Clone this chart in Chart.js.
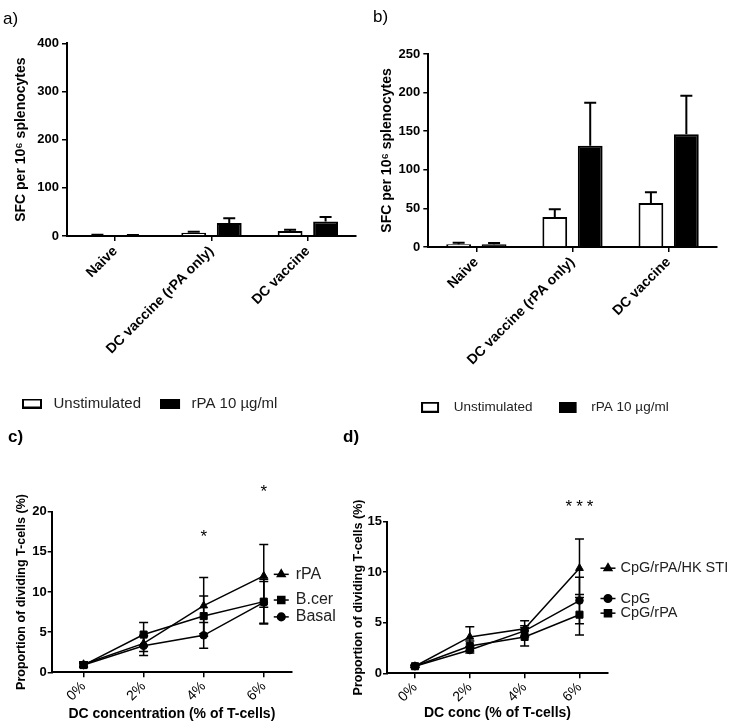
<!DOCTYPE html>
<html><head><meta charset="utf-8">
<script src="https://cdn.jsdelivr.net/npm/chart.js@4/dist/chart.umd.min.js"></script>
<style>
html,body{margin:0;padding:0;background:#fff;}
body{width:735px;height:726px;position:relative;overflow:hidden;}
canvas{position:absolute;}
</style></head><body>
<canvas id="ca" width="370" height="421" style="left:0;top:0"></canvas>
<canvas id="cb" width="365" height="424" style="left:370px;top:0"></canvas>
<canvas id="cc" width="340" height="306" style="left:0;top:420px"></canvas>
<canvas id="cd" width="395" height="306" style="left:340px;top:420px"></canvas>
<script>
// ---------- data ----------
const barCategories = ['Naive', 'DC vaccine (rPA only)', 'DC vaccine'];
const barSeries = ['Unstimulated', 'rPA 10 µg/ml'];
const aUnstim = [2, 7, 10.5];
const aUnstimErr = [0.5, 2, 2.5];
const aRpa = [1.5, 27, 30];
const aRpaErr = [0.5, 10, 9.5];
const bUnstim = [3.5, 39, 57];
const bUnstimErr = [2, 10, 14];
const bRpa = [3.5, 131, 146];
const bRpaErr = [1.7, 56, 50];

const dcConc = ['0%', '2%', '4%', '6%'];
const cNames = ['rPA', 'B.cer', 'Basal'];
const cRpa = [1.0, 3.6, 8.3, 12.0];
const cRpaErr = [0.3, 1.0, 3.5, 3.9];
const cBcer = [0.9, 4.7, 7.0, 8.8];
const cBcerErr = [0.3, 1.5, 2.5, 2.8];
const cBasal = [0.9, 3.3, 4.6, 8.7];
const cBasalErr = [0.2, 1.2, 1.6, 2.6];
const cSig = ['', '', '*', '*'];

const dNames = ['CpG/rPA/HK STI', 'CpG', 'CpG/rPA'];
const dHk = [0.7, 3.6, 4.4, 10.4];
const dHkErr = [0.1, 1.0, 0.8, 2.9];
const dCpg = [0.7, 2.3, 4.2, 7.2];
const dCpgErr = [0.1, 0.3, 0.5, 2.3];
const dCpgRpa = [0.7, 2.7, 3.6, 5.8];
const dCpgRpaErr = [0.1, 0.5, 0.9, 2.0];
const dSig = ['', '', '', '***'];

// ---------- setup ----------
const FONT = "'Liberation Sans', Arial, sans-serif";
Chart.defaults.font.family = FONT;
Chart.defaults.color = '#000';

const errorBars = {
  id: 'errorBars',
  afterDatasetsDraw(chart, args, opts) {
    const ctx = chart.ctx, ys = chart.scales.y;
    ctx.save();
    ctx.strokeStyle = '#000';
    ctx.lineWidth = opts.width;
    chart.data.datasets.forEach((ds, i) => {
      if (!ds.errors) return;
      const meta = chart.getDatasetMeta(i);
      meta.data.forEach((el, j) => {
        const raw = ds.data[j];
        const v = (typeof raw === 'object') ? raw.y : raw;
        const e = ds.errors[j];
        const x = el.x;
        const top = ys.getPixelForValue(v + e);
        const bot = opts.upOnly ? el.y : ys.getPixelForValue(v - e);
        ctx.beginPath();
        ctx.moveTo(x, bot); ctx.lineTo(x, top);
        ctx.moveTo(x - opts.cap, top); ctx.lineTo(x + opts.cap, top);
        if (!opts.upOnly) { ctx.moveTo(x - opts.cap, bot); ctx.lineTo(x + opts.cap, bot); }
        ctx.stroke();
      });
    });
    ctx.restore();
  }
};

const sigMarks = {
  id: 'sigMarks',
  afterDraw(chart, args, opts) {
    if (!opts.labels) return;
    const ctx = chart.ctx, xs = chart.scales.x, ys = chart.scales.y;
    ctx.save();
    ctx.font = opts.size + 'px ' + FONT;
    ctx.fillStyle = '#000';
    ctx.textAlign = 'center';
    ctx.textBaseline = 'alphabetic';
    if (opts.spacing) ctx.letterSpacing = opts.spacing + 'px';
    opts.labels.forEach((t, i) => {
      if (!t) return;
      ctx.fillText(t, xs.getPixelForValue(i) + (opts.spacing || 0) / 2, ys.getPixelForValue(opts.at[i]) + opts.size * 0.58);
    });
    ctx.restore();
  }
};

const inlineLegend = {
  id: 'inlineLegend',
  afterDraw(chart, args, opts) {
    if (!opts.ys) return;
    const ctx = chart.ctx, xs = chart.scales.x, ys = chart.scales.y;
    const xr = xs.getPixelForValue(opts.atX);
    ctx.save();
    chart.data.datasets.forEach((ds, i) => {
      const y = ys.getPixelForValue(opts.ys[i]);
      ctx.strokeStyle = '#000'; ctx.fillStyle = '#000'; ctx.lineWidth = 1.5;
      ctx.beginPath(); ctx.moveTo(xr + opts.from, y); ctx.lineTo(xr + opts.to, y); ctx.stroke();
      Chart.helpers.drawPoint(ctx, {pointStyle: ds.pointStyle, radius: ds.pointRadius, rotation: 0, borderWidth: 1}, xr + (opts.from + opts.to) / 2, y);
      ctx.fillStyle = '#222';
      ctx.font = opts.size + 'px ' + FONT;
      ctx.textAlign = 'left'; ctx.textBaseline = 'middle';
      ctx.fillText(ds.label, xr + opts.textAt, y);
    });
    ctx.restore();
  }
};

function swatch(w, h, rw, fill) {
  const c = document.createElement('canvas');
  c.width = w; c.height = h;
  const x = c.getContext('2d');
  x.fillStyle = fill; x.fillRect(1, 1, rw - 2, h - 2);
  x.strokeStyle = '#000'; x.lineWidth = 2; x.strokeRect(1, 1, rw - 2, h - 2);
  return c;
}

function barChart(id, c) {
  const fills = ['#fff', '#000'];
  return new Chart(document.getElementById(id), {
    type: 'bar',
    data: {
      labels: barCategories,
      datasets: [
        {label: barSeries[0], data: c.unstim, errors: c.unstimErr, backgroundColor: '#fff', borderColor: '#000', borderWidth: 2},
        {label: barSeries[1], data: c.rpa, errors: c.rpaErr, backgroundColor: '#000', borderColor: '#000', borderWidth: 2}
      ]
    },
    options: {
      responsive: false, animation: false, events: [],
      layout: {padding: c.pad},
      datasets: {bar: {categoryPercentage: 0.737, barPercentage: 0.70}},
      scales: {
        x: {
          grid: {display: true, drawOnChartArea: false, offset: false, color: '#000', lineWidth: 1.5, tickLength: 5},
          border: {display: true, color: '#000', width: 2},
          ticks: {color: '#000', font: {size: 14, weight: 'bold'}, minRotation: 45, maxRotation: 45, padding: 2, autoSkip: false},
          afterFit: s => { s.height = s.chart.height - c.pad.bottom - s.chart.legend.height - c.bottom; }
        },
        y: {
          min: 0, max: c.max,
          grid: {display: true, drawOnChartArea: false, color: '#000', lineWidth: 1.5, tickLength: 5},
          border: {display: true, color: '#000', width: 2},
          ticks: {stepSize: c.step, color: '#000', font: {size: 13, weight: 'bold'}, padding: 3},
          title: {display: true, text: 'SFC per 10\u2076 splenocytes', color: '#000', font: {size: 14, weight: 'bold'}, padding: {top: c.ytp, bottom: 0}},
          afterFit: s => { s.width = c.yWidth; }
        }
      },
      plugins: {
        tooltip: {enabled: false},
        title: {display: true, text: c.label, align: 'start', color: '#000', font: {size: 17, weight: 'normal'}, padding: {top: c.titleTop, bottom: c.titleBottom}},
        legend: {
          display: true, position: 'bottom', align: c.legAlign,
          labels: {
            usePointStyle: true, pointStyleWidth: c.sw[0], boxHeight: c.sw[1],
            padding: c.legPad, color: '#222', font: {size: c.legSize},
            generateLabels: ch => ch.data.datasets.map((ds, i) => ({
              text: ds.label, datasetIndex: i, hidden: false, fontColor: '#222',
              pointStyle: swatch(c.sw[0], c.sw[1], c.sw[2], fills[i]),
              fillStyle: 'transparent', strokeStyle: 'transparent', lineWidth: 0
            }))
          }
        },
        errorBars: {width: 2, cap: 6, upOnly: true}
      }
    },
    plugins: [errorBars]
  });
}

barChart('ca', {
  unstim: aUnstim, unstimErr: aUnstimErr, rpa: aRpa, rpaErr: aRpaErr,
  max: 400, step: 100, label: 'a)', pad: {left: 3, right: 14, top: 0, bottom: 0},
  yWidth: 64, ytp: 9.6, titleTop: 9, titleBottom: 13.9, bottom: 236,
  legAlign: 'start', legPad: 19, legSize: 15, sw: [24, 10, 20]
});
barChart('cb', {
  unstim: bUnstim, unstimErr: bUnstimErr, rpa: bRpa, rpaErr: bRpaErr,
  max: 250, step: 50, label: 'b)', pad: {left: 3, right: 18.3, top: 0, bottom: 0},
  yWidth: 55.3, ytp: 6.1, titleTop: 7, titleBottom: 26.6, bottom: 247,
  legAlign: 'center', legPad: 26, legSize: 13.5, sw: [26, 11, 18]
});

function lineChart(id, c) {
  const radii = {triangle: 4.5, rect: 5, circle: 3.8};
  return new Chart(document.getElementById(id), {
    type: 'line',
    data: {
      datasets: c.series.map((s, i) => ({
        label: s.name,
        data: s.values.map((v, j) => ({x: j, y: v})),
        errors: s.errors,
        pointStyle: s.marker, pointRadius: radii[s.marker],
        borderColor: '#000', borderWidth: 1.5, backgroundColor: '#000',
        pointBackgroundColor: '#000', pointBorderColor: '#000', pointBorderWidth: 1,
        tension: 0, clip: false
      }))
    },
    options: {
      responsive: false, animation: false, events: [],
      layout: {padding: c.pad},
      scales: {
        x: {
          type: 'linear', min: c.xmin, max: c.xmax,
          afterBuildTicks: s => { s.ticks = dcConc.map((_, i) => ({value: i})); },
          grid: {display: true, drawOnChartArea: false, color: '#000', lineWidth: 1.5, tickLength: 5},
          border: {display: true, color: '#000', width: 2},
          ticks: {color: '#000', font: {size: 14}, minRotation: 45, maxRotation: 45, padding: 1, autoSkip: false,
                  callback: v => dcConc[v]},
          title: {display: true, text: c.xTitle, color: '#000', font: {size: 14, weight: 'bold'}, padding: {top: 0, bottom: c.xtb}},
          afterFit: s => { s.height = c.xHeight; }
        },
        y: {
          min: 0, max: c.ymax,
          grid: {display: true, drawOnChartArea: false, color: '#000', lineWidth: 1.5, tickLength: 4},
          border: {display: true, color: '#000', width: 2},
          ticks: {stepSize: 5, color: '#000', font: {size: 13, weight: 'bold'}, padding: 1},
          title: {display: true, text: 'Proportion of dividing T-cells (%)', color: '#000', font: {size: 12.5, weight: 'bold'}, padding: {top: c.ytp, bottom: 0}},
          afterFit: s => { s.width = c.yWidth; }
        }
      },
      plugins: {
        tooltip: {enabled: false},
        legend: {display: false},
        title: {display: true, text: c.label, align: 'start', color: '#000', font: {size: 17, weight: 'bold'}, padding: {top: 6.8, bottom: c.titleBottom}},
        errorBars: {width: 1.5, cap: 4.5, upOnly: false},
        sigMarks: {labels: c.sig, at: c.sigAt, size: 17, spacing: c.sigSpacing},
        inlineLegend: c.legend
      }
    },
    plugins: [errorBars, sigMarks, inlineLegend]
  });
}

lineChart('cc', {
  series: [
    {name: cNames[0], values: cRpa, errors: cRpaErr, marker: 'triangle'},
    {name: cNames[1], values: cBcer, errors: cBcerErr, marker: 'rect'},
    {name: cNames[2], values: cBasal, errors: cBasalErr, marker: 'circle'}
  ],
  label: 'c)', pad: {left: 8, right: 48, top: 0, bottom: 0},
  xmin: -0.53, xmax: 3.47, ymax: 20,
  xTitle: 'DC concentration (% of T-cells)', xtb: 3.6, xHeight: 53.7,
  yWidth: 43.7, ytp: 6, titleBottom: 64.5,
  sig: cSig, sigAt: [0, 0, 17.5, 23.1], sigSpacing: 0,
  legend: {atX: 3, from: 10, to: 25, textAt: 32, size: 16, ys: [12.2, 9.0, 6.9]}
});

lineChart('cd', {
  series: [
    {name: dNames[0], values: dHk, errors: dHkErr, marker: 'triangle'},
    {name: dNames[1], values: dCpg, errors: dCpgErr, marker: 'circle'},
    {name: dNames[2], values: dCpgRpa, errors: dCpgRpaErr, marker: 'rect'}
  ],
  label: 'd)', pad: {left: 3, right: 127, top: 0, bottom: 0},
  xmin: -0.51, xmax: 3.52, ymax: 15,
  xTitle: 'DC conc (% of T-cells)', xtb: 4.6, xHeight: 52.7,
  yWidth: 44, ytp: 8, titleBottom: 74.5,
  sig: dSig, sigAt: [0, 0, 0, 16.9], sigSpacing: 4,
  legend: {atX: 3, from: 21, to: 36, textAt: 41, size: 14.5, ys: [10.4, 7.4, 5.95]}
});
</script>
</body></html>
